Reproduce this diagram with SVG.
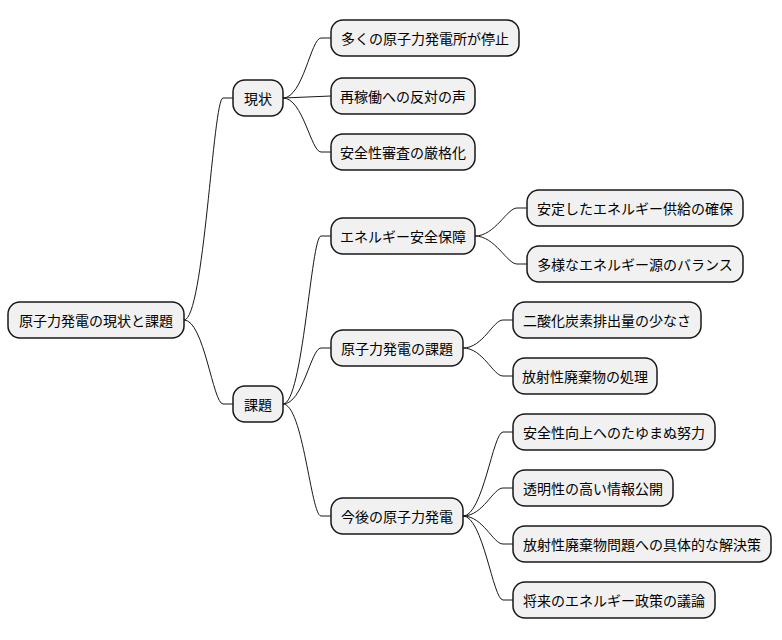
<svg xmlns="http://www.w3.org/2000/svg" width="782" height="640" viewBox="0 0 782 640">
<style>
.n rect{fill:#f1f1f1;stroke:#181818;stroke-width:1.5}
.n text{font-family:"Noto Sans CJK JP","Noto Sans",sans-serif;font-size:14px;fill:#000;dominant-baseline:central}
#c path{fill:none;stroke:#181818;stroke-width:1}
</style>
<rect width="782" height="640" fill="#fff"/>
<g id="c">
<path d="M184,320 C204,320 213,98 223,98 L233,98"/>
<path d="M184,320 C204,320 213,404 223,404 L233,404"/>
<path d="M283,98 C303,98 311,38 321,38 L331,38"/>
<path d="M283,98 L331,96"/>
<path d="M283,98 C303,98 311,152 321,152 L331,152"/>
<path d="M283,404 C303,404 311,236 321,236 L331,236"/>
<path d="M283,404 C303,404 311,348 321,348 L331,348"/>
<path d="M283,404 C303,404 311,516 321,516 L331,516"/>
<path d="M475,236 C495,236 507,208 517,208 L527,208"/>
<path d="M475,236 C495,236 507,264 517,264 L527,264"/>
<path d="M463,348 C483,348 493,320 503,320 L513,320"/>
<path d="M463,348 C483,348 493,376 503,376 L513,376"/>
<path d="M463,516 C483,516 493,432 503,432 L513,432"/>
<path d="M463,516 C483,516 493,488 503,488 L513,488"/>
<path d="M463,516 C483,516 493,544 503,544 L513,544"/>
<path d="M463,516 C483,516 493,600 503,600 L513,600"/>
</g>
<g id="root" class="n"><rect x="8" y="302" width="176" height="36" rx="12"/><text x="96" y="320" text-anchor="middle">原子力発電の現状と課題</text></g>
<g id="genjo" class="n"><rect x="233" y="80" width="50" height="36" rx="12"/><text x="258" y="98" text-anchor="middle">現状</text></g>
<g id="kadai" class="n"><rect x="233" y="386" width="50" height="36" rx="12"/><text x="258" y="404" text-anchor="middle">課題</text></g>
<g id="g1" class="n"><rect x="331" y="20" width="188" height="36" rx="12"/><text x="425" y="38" text-anchor="middle">多くの原子力発電所が停止</text></g>
<g id="g2" class="n"><rect x="331" y="78" width="144" height="36" rx="12"/><text x="403" y="96" text-anchor="middle">再稼働への反対の声</text></g>
<g id="g3" class="n"><rect x="331" y="134" width="144" height="36" rx="12"/><text x="403" y="152" text-anchor="middle">安全性審査の厳格化</text></g>
<g id="k1" class="n"><rect x="331" y="218" width="144" height="36" rx="12"/><text x="403" y="236" text-anchor="middle">エネルギー安全保障</text></g>
<g id="k2" class="n"><rect x="331" y="330" width="132" height="36" rx="12"/><text x="397" y="348" text-anchor="middle">原子力発電の課題</text></g>
<g id="k3" class="n"><rect x="331" y="498" width="132" height="36" rx="12"/><text x="397" y="516" text-anchor="middle">今後の原子力発電</text></g>
<g id="k1a" class="n"><rect x="527" y="190" width="216" height="36" rx="12"/><text x="635" y="208" text-anchor="middle">安定したエネルギー供給の確保</text></g>
<g id="k1b" class="n"><rect x="527" y="246" width="216" height="36" rx="12"/><text x="635" y="264" text-anchor="middle">多様なエネルギー源のバランス</text></g>
<g id="k2a" class="n"><rect x="513" y="302" width="188" height="36" rx="12"/><text x="607" y="320" text-anchor="middle">二酸化炭素排出量の少なさ</text></g>
<g id="k2b" class="n"><rect x="513" y="358" width="144" height="36" rx="12"/><text x="585" y="376" text-anchor="middle">放射性廃棄物の処理</text></g>
<g id="k3a" class="n"><rect x="513" y="414" width="202" height="36" rx="12"/><text x="614" y="432" text-anchor="middle">安全性向上へのたゆまぬ努力</text></g>
<g id="k3b" class="n"><rect x="513" y="470" width="160" height="36" rx="12"/><text x="593" y="488" text-anchor="middle">透明性の高い情報公開</text></g>
<g id="k3c" class="n"><rect x="513" y="526" width="258" height="36" rx="12"/><text x="642" y="544" text-anchor="middle">放射性廃棄物問題への具体的な解決策</text></g>
<g id="k3d" class="n"><rect x="513" y="582" width="202" height="36" rx="12"/><text x="614" y="600" text-anchor="middle">将来のエネルギー政策の議論</text></g>
</svg>
